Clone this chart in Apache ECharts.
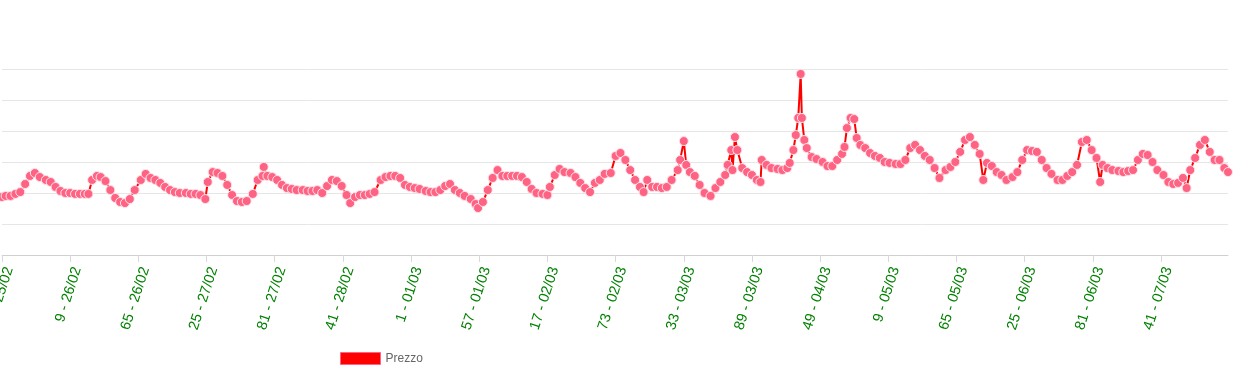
<!DOCTYPE html>
<html>
<head>
<meta charset="utf-8">
<script src="https://cdn.jsdelivr.net/npm/echarts@6/dist/echarts.min.js"></script>
<style>
html,body{margin:0;padding:0;background:#fff;}
#chart{width:1259px;height:373px;}
</style>
</head>
<body>
<div id="chart"></div>
<script>
// Tick labels shown every 56 quarter-hours
const tickLabels = ["49 - 25/02","9 - 26/02","65 - 26/02","25 - 27/02","81 - 27/02","41 - 28/02","1 - 01/03","57 - 01/03","17 - 02/03","73 - 02/03","33 - 03/03","89 - 03/03","49 - 04/03","9 - 05/03","65 - 05/03","25 - 06/03","81 - 06/03","41 - 07/03"];
const pointCount = 1008;
const tickEvery = 56;
const idx = [0,3,7,11,15,19,23,27,31,36,40,44,48,52,56,60,64,68,71,74,78,81,85,89,93,97,101,105,109,114,118,122,126,130,134,138,142,146,151,155,159,163,167,169,173,177,181,185,189,193,197,201,206,210,214,215,218,222,226,230,234,238,242,247,251,255,259,263,267,271,275,279,283,286,290,294,298,302,306,311,315,319,323,327,331,335,339,343,348,352,356,360,364,368,372,376,380,385,389,391,395,399,403,407,411,415,419,423,427,431,435,439,444,448,450,454,458,462,467,471,475,479,483,487,491,495,500,504,508,512,516,520,524,527,530,534,538,542,546,550,555,557,560,562,565,569,573,577,582,586,590,594,596,599,600,602,604,608,612,616,620,623,624,628,632,637,641,645,647,650,652,654,656,657,659,661,665,669,674,678,682,686,690,692,694,697,700,702,705,709,713,717,721,725,729,734,738,742,746,750,754,758,762,766,770,775,779,783,787,791,795,799,803,806,809,813,817,821,825,830,834,838,842,846,850,854,858,862,867,871,875,879,883,887,891,895,899,902,904,908,912,917,921,925,929,933,937,941,945,949,954,958,962,966,970,973,976,980,984,988,992,996,1000,1004,1007];
const prezzo = [97.4,98.1,98.1,99.4,100.6,105.8,111.0,112.9,110.3,108.4,107.1,103.9,101.3,100.0,100.0,99.4,99.4,99.4,99.4,108.4,111.0,110.3,107.7,101.9,96.8,94.2,93.5,96.1,101.9,108.4,112.3,109.7,108.4,106.5,103.9,101.9,100.6,100.0,100.0,99.4,99.4,98.7,96.1,107.1,113.5,112.9,111.0,105.2,98.7,94.8,94.2,94.8,99.4,108.4,111.0,116.8,111.0,110.3,108.4,105.2,103.2,102.6,101.9,101.9,101.3,101.3,101.9,100.0,104.5,108.4,107.7,104.5,98.7,93.5,97.4,98.7,98.7,99.4,100.6,108.4,110.3,111.0,111.0,109.7,105.2,103.9,103.2,102.6,101.3,100.6,100.6,101.9,104.5,105.8,101.9,100.0,98.1,96.1,92.9,90.3,94.2,101.9,109.7,114.8,111.0,111.0,111.0,111.0,110.3,107.1,102.6,100.0,99.4,98.7,103.9,111.6,115.5,113.5,112.9,110.3,106.5,103.2,100.6,106.5,108.4,112.3,112.9,123.9,125.8,121.3,114.8,108.4,103.9,100.6,108.4,103.9,103.9,103.2,103.9,108.4,114.8,121.3,133.5,118.1,113.5,111.0,105.2,100.0,98.1,103.2,107.1,111.6,118.1,127.7,114.8,136.1,127.7,116.1,113.5,111.6,108.4,107.1,121.3,118.1,116.1,115.5,114.8,116.1,119.4,127.7,137.4,148.4,176.8,148.4,134.2,129.0,123.2,121.9,120.0,117.4,117.4,121.3,125.2,129.7,141.9,148.4,147.7,135.5,131.0,129.0,125.8,123.9,122.6,120.0,119.4,118.7,118.7,121.3,129.0,131.0,127.7,123.9,121.3,116.1,109.7,114.8,116.8,120.0,126.5,134.2,136.1,131.0,125.2,108.4,119.4,117.4,113.5,111.6,108.4,110.3,113.5,121.3,127.7,127.1,126.5,121.3,116.1,112.3,108.4,108.4,111.0,113.5,118.1,132.9,134.2,127.7,122.6,107.1,118.1,116.1,114.8,114.2,113.5,114.2,114.8,121.3,125.2,124.5,120.0,114.8,111.6,107.1,105.8,106.5,109.7,103.2,114.8,122.6,131.0,134.2,126.5,121.3,121.3,116.1,113.5];

const categories = Array.from({length: pointCount}, (_, i) => i % tickEvery === 0 ? (tickLabels[i / tickEvery] || '') : '');
const seriesData = idx.map((x, k) => [x, prezzo[k]]);

const chart = echarts.init(document.getElementById('chart'), null, {renderer: 'canvas'});
chart.setOption({
  animation: false,
  grid: {left: 2, right: 31, top: 69, bottom: 118, containLabel: false, outerBoundsMode: 'none'},
  legend: {
    left: 335, top: 347,
    itemWidth: 40, itemHeight: 12, itemGap: 7,
    icon: 'rect',
    textStyle: {color: '#666', fontSize: 12, fontFamily: 'Liberation Sans, Arial, sans-serif'},
    data: [{name: 'Prezzo', icon: 'rect', itemStyle: {color: '#ff0000', borderColor: '#ff6384', borderWidth: 1}}]
  },
  xAxis: {
    type: 'category',
    data: categories,
    boundaryGap: false,
    axisLine: {lineStyle: {color: '#d0d0d0', width: 1}},
    axisTick: {show: true, interval: tickEvery - 1, length: 7, lineStyle: {color: '#d8d8d8'}},
    axisLabel: {
      interval: tickEvery - 1,
      rotate: 72,
      color: '#008000',
      fontSize: 14.5,
      margin: 10,
      verticalAlign: 'top',
      hideOverlap: false,
      fontFamily: 'Liberation Sans, Arial, sans-serif'
    },
    splitLine: {show: false}
  },
  yAxis: {
    type: 'value',
    min: 60, max: 180, interval: 20,
    axisLabel: {show: false},
    axisLine: {show: false},
    axisTick: {show: false},
    splitLine: {lineStyle: {color: '#e6e6e6', width: 1}}
  },
  series: [{
    name: 'Prezzo',
    type: 'line',
    data: seriesData,
    symbol: 'circle',
    symbolSize: 9,
    showAllSymbol: true,
    lineStyle: {color: '#ff0000', width: 2},
    itemStyle: {color: '#ff6384', borderColor: '#ffe4ea', borderWidth: 1}
  }]
});
</script>
</body>
</html>
